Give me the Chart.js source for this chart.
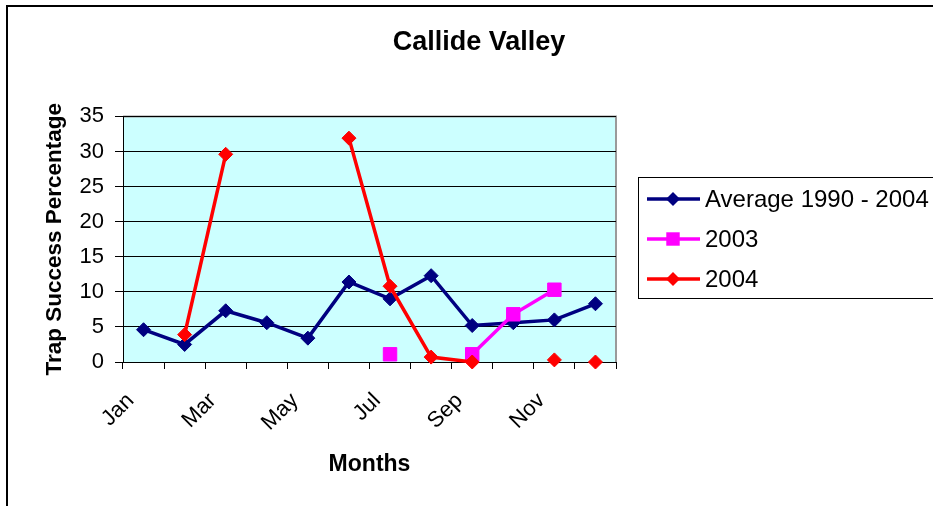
<!DOCTYPE html>
<html>
<head>
<meta charset="utf-8">
<script src="https://cdn.jsdelivr.net/npm/chart.js@4.4.0/dist/chart.umd.min.js"></script>
<style>
  html, body { margin: 0; padding: 0; background: #fff; overflow: hidden; }
  canvas { display: block; }
</style>
</head>
<body>
<canvas id="chart" width="933" height="506"></canvas>
<script>
// ---------- data ----------
const months = ['Jan', 'Feb', 'Mar', 'Apr', 'May', 'Jun', 'Jul', 'Aug', 'Sep', 'Oct', 'Nov', 'Dec'];
const shownMonths = ['Jan', 'Mar', 'May', 'Jul', 'Sep', 'Nov'];
const average = [4.6, 2.5, 7.3, 5.6, 3.4, 11.4, 9.0, 12.3, 5.2, 5.6, 6.0, 8.3];
const y2003 = [null, null, null, null, null, null, 1.1, null, 1.1, 6.8, 10.3, null];
const y2004 = [null, 3.9, 29.6, null, null, 31.9, 10.8, 0.7, 0.0, null, 0.3, 0.0];
const yTicks = [0, 5, 10, 15, 20, 25, 30, 35];
const noLine2004 = ['Nov']; // no segment drawn after this month

const FONT = '"Liberation Sans", Arial, sans-serif';

// ---------- plugins ----------
const frame = {
  id: 'frame',
  beforeDraw(chart) {
    const { ctx, chartArea: a } = chart;
    ctx.save();
    ctx.fillStyle = '#fff';
    ctx.fillRect(0, 0, chart.width, chart.height);
    ctx.fillStyle = '#CCFFFF';
    ctx.fillRect(a.left, a.top, a.width, a.height);
    // grey plot border top/right
    ctx.strokeStyle = '#9a9a9a';
    ctx.lineWidth = 2;
    ctx.beginPath();
    ctx.moveTo(a.left, a.top);
    ctx.lineTo(a.right, a.top);
    ctx.lineTo(a.right, a.bottom);
    ctx.stroke();
    // outer frame
    ctx.strokeStyle = '#000';
    ctx.beginPath();
    ctx.moveTo(7, chart.height);
    ctx.lineTo(7, 6);
    ctx.lineTo(chart.width, 6);
    ctx.stroke();
    ctx.restore();
  }
};

function marker(ctx, style, x, y, r) {
  ctx.beginPath();
  if (style === 'rect') {
    const s = r * Math.SQRT1_2;
    ctx.rect(x - s, y - s, 2 * s, 2 * s);
  } else {
    ctx.moveTo(x - r, y);
    ctx.lineTo(x, y - r);
    ctx.lineTo(x + r, y);
    ctx.lineTo(x, y + r);
    ctx.closePath();
  }
  ctx.fill();
}

const legendBox = {
  id: 'legendBox',
  afterDraw(chart) {
    const ctx = chart.ctx;
    ctx.save();
    ctx.strokeStyle = '#000';
    ctx.lineWidth = 1;
    ctx.strokeRect(638.5, 177.5, 320, 121);
    chart.data.datasets.forEach((ds, i) => {
      const y = 199 + i * 40;
      ctx.strokeStyle = ds.borderColor;
      ctx.lineWidth = ds.borderWidth;
      ctx.beginPath();
      ctx.moveTo(647, y);
      ctx.lineTo(700, y);
      ctx.stroke();
      ctx.fillStyle = ds.borderColor;
      marker(ctx, ds.pointStyle, 673, y, ds.pointRadius);
      ctx.fillStyle = '#000';
      ctx.font = '24px ' + FONT;
      ctx.textBaseline = 'middle';
      ctx.fillText(ds.label, 705, y + 1);
    });
    ctx.restore();
  }
};

// ---------- chart ----------
function series(label, data, color, style, radius, order) {
  return {
    label: label,
    data: data,
    borderColor: color,
    backgroundColor: color,
    pointBackgroundColor: color,
    pointBorderColor: color,
    borderWidth: 3.5,
    pointStyle: style,
    pointRadius: radius,
    pointBorderWidth: 1,
    tension: 0,
    clip: false,
    order: order
  };
}

const ds2004 = series('2004', y2004, '#FF0000', 'rectRot', 7, 1);
ds2004.segment = {
  borderColor: c => noLine2004.includes(months[c.p0DataIndex]) ? 'rgba(0,0,0,0)' : undefined
};

new Chart(document.getElementById('chart'), {
  type: 'line',
  data: {
    labels: months,
    datasets: [
      series('Average 1990 - 2004', average, '#000080', 'rectRot', 7, 3),
      series('2003', y2003, '#FF00FF', 'rect', 9.5, 2),
      ds2004
    ]
  },
  options: {
    responsive: false,
    animation: false,
    layout: { padding: { left: 25, right: 0, top: 0, bottom: 0 } },
    plugins: {
      legend: { display: false },
      tooltip: { enabled: false },
      title: {
        display: true,
        text: 'Callide Valley',
        color: '#000',
        font: { family: FONT, size: 27, weight: 'bold' },
        padding: { top: 26, bottom: 58 }
      }
    },
    scales: {
      x: {
        offset: true,
        grid: { offset: true, drawOnChartArea: false, color: '#000', tickLength: 7 },
        border: { color: '#000', width: 1 },
        ticks: {
          autoSkip: false,
          minRotation: 45,
          maxRotation: 45,
          color: '#000',
          padding: 6,
          font: { family: FONT, size: 22 },
          // trailing spaces push the slanted label down-left of its tick
          callback: (v, i) => shownMonths.includes(months[i]) ? months[i] + '   ' : ''
        },
        title: {
          display: true,
          text: 'Months',
          color: '#000',
          font: { family: FONT, size: 23, weight: 'bold' },
          padding: { top: 0, bottom: 28 }
        },
        afterFit: s => { s.height = 144; }
      },
      y: {
        min: 0,
        max: 35,
        afterBuildTicks: s => { s.ticks = yTicks.map(v => ({ value: v })); },
        grid: { color: '#000', tickLength: 8 },
        border: { color: '#000', width: 1 },
        ticks: {
          color: '#000',
          padding: 11,
          font: { family: FONT, size: 22 }
        },
        title: {
          display: true,
          text: 'Trap Success Percentage',
          color: '#000',
          font: { family: FONT, size: 22.5, weight: 'bold' },
          padding: { top: 16, bottom: 0 }
        },
        afterFit: s => { s.width = 98; }
      },
      yR: {
        position: 'right',
        grid: { display: false },
        border: { display: false },
        ticks: { display: false },
        afterFit: s => { s.width = 317; }
      }
    }
  },
  plugins: [frame, legendBox]
});
</script>
</body>
</html>
